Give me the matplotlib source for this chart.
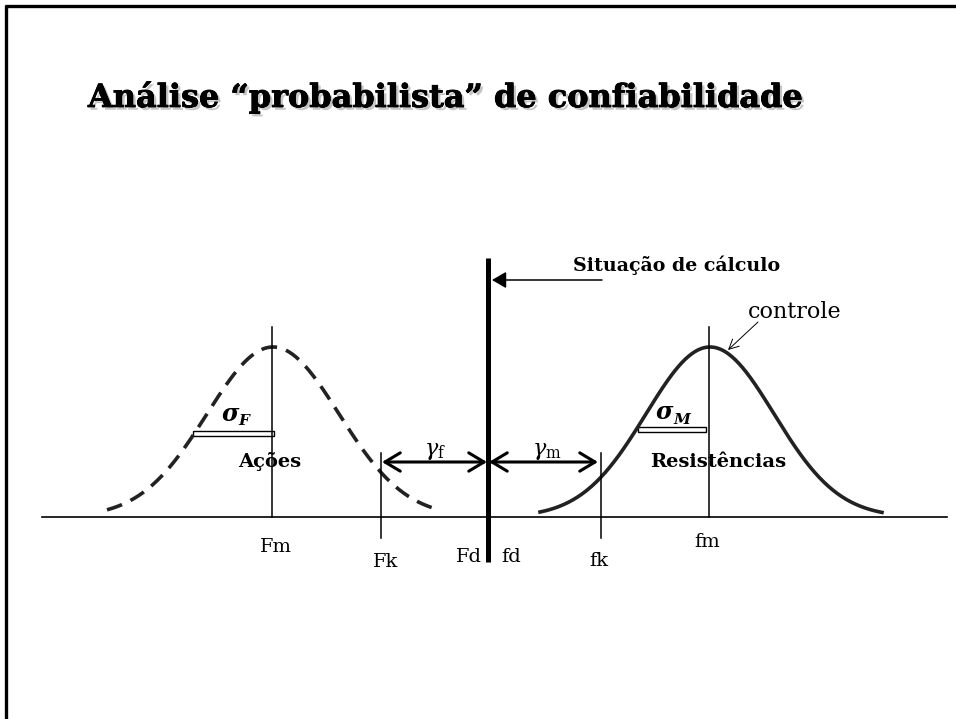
import numpy as np
import matplotlib
matplotlib.use("Agg")
import matplotlib.pyplot as plt
import matplotlib.patheffects as pe
from matplotlib.patches import Rectangle

# ---- data (diagram units ~ pixel space) ----
mean_actions = 273.0        # Fm
mean_resist = 710.0         # fm
sigma_actions = 66.0
sigma_resist = 64.0
peak_height = 170.0
tail_half_width = 166.0
baseline_y = 517.0
Fk_x = 381.0
Fd_x = 489.0
fk_x = 600.0

title_text = "Análise “probabilista” de confiabilidade"
tick_labels = ["Fm", "Fk", "Fd", "fd", "fk", "fm"]
tick_label_pos = [(276, 552), (386, 567), (469, 562), (511, 562), (599, 566), (707, 547)]

fig = plt.figure(figsize=(9.56, 7.19), dpi=100)
ax = fig.add_axes([0, 0, 1, 1])
ax.set_xlim(0, 956)
ax.set_ylim(719, 0)
ax.axis("off")

# slide border (top and left)
ax.plot([5, 956], [6, 6], color="black", lw=2.4, solid_capstyle="butt")
ax.plot([6, 6], [5, 719], color="black", lw=2.4, solid_capstyle="butt")

# title with shadow
ax.text(88, 107, title_text, family="DejaVu Serif", fontweight="heavy",
        fontsize=23, ha="left", va="baseline", color="black",
        path_effects=[pe.withSimplePatchShadow(offset=(2.0, -2.0),
                                               shadow_rgbFace="#808080", alpha=0.45),
                      pe.withStroke(linewidth=0.6, foreground="black")])

# baseline axis
ax.plot([42, 947], [baseline_y, baseline_y], color="black", lw=1.2)

# curves
xa = np.linspace(mean_actions - tail_half_width, mean_actions + tail_half_width - 2, 300)
ya = baseline_y - peak_height * np.exp(-(xa - mean_actions) ** 2 / (2 * sigma_actions ** 2))
la, = ax.plot(xa, ya, color="#222222", lw=2.6, dash_capstyle="butt")
la.set_dashes((4.4, 2.6))

xr = np.linspace(mean_resist - tail_half_width - 4, mean_resist + tail_half_width + 6, 300)
yr = baseline_y - peak_height * np.exp(-(xr - mean_resist) ** 2 / (2 * sigma_resist ** 2))
ax.plot(xr, yr, color="#222222", lw=2.6)

# vertical lines
ax.plot([mean_actions - 1, mean_actions - 1], [327, baseline_y], color="black", lw=1.1)
ax.plot([mean_resist - 1, mean_resist - 1], [327, baseline_y], color="black", lw=1.1)
ax.plot([Fk_x, Fk_x], [453, 538], color="black", lw=1.1)
ax.plot([fk_x + 1, fk_x + 1], [453, 538], color="black", lw=1.1)
ax.plot([Fd_x - 1, Fd_x - 1], [258, 562], color="black", lw=3.6, solid_capstyle="butt")

# gamma arrows
arrow_y = 462
ax.annotate("", xy=(Fk_x + 1, arrow_y), xytext=(Fd_x - 2, arrow_y),
            arrowprops=dict(arrowstyle="<->, head_length=0.55, head_width=0.33",
                            lw=2.2, color="black", shrinkA=0, shrinkB=0,
                            mutation_scale=20))
ax.annotate("", xy=(Fd_x, arrow_y), xytext=(fk_x - 2, arrow_y),
            arrowprops=dict(arrowstyle="<->, head_length=0.55, head_width=0.33",
                            lw=2.2, color="black", shrinkA=0, shrinkB=0,
                            mutation_scale=20))
ax.text(435, 455, r"$\gamma_{\mathrm{f}}$", fontsize=16, ha="center", va="baseline",
        math_fontfamily="dejavuserif")
ax.text(547, 455, r"$\gamma_{\mathrm{m}}$", fontsize=16, ha="center", va="baseline",
        math_fontfamily="dejavuserif")

# Situação de cálculo
ax.text(573, 271, "Situação de cálculo", family="DejaVu Serif", fontweight="bold",
        fontsize=13.7, ha="left", va="baseline")
ax.annotate("", xy=(Fd_x + 3, 280), xytext=(602, 280),
            arrowprops=dict(arrowstyle="-|>, head_length=0.86, head_width=0.5",
                            lw=1.1, color="black", shrinkA=0, shrinkB=0,
                            mutation_scale=10))

# controle
ax.text(748, 318, "controle", family="DejaVu Serif", fontsize=16, ha="left", va="baseline")
ax.annotate("", xy=(728, 350), xytext=(758, 322),
            arrowprops=dict(arrowstyle="->, head_length=0.7, head_width=0.35",
                            lw=0.7, color="black", shrinkA=0, shrinkB=0,
                            mutation_scale=10))

# sigma bars
ax.add_patch(Rectangle((193, 431), 81, 5, facecolor="white", edgecolor="black", lw=1.0))
ax.add_patch(Rectangle((638, 427), 68, 5, facecolor="white", edgecolor="black", lw=1.0))
ax.text(222, 421, "σ", family="DejaVu Serif", fontweight="bold", fontstyle="italic",
        fontsize=17, ha="left", va="baseline")
ax.text(238, 425, "F", family="DejaVu Serif", fontweight="bold", fontstyle="italic",
        fontsize=11, ha="left", va="baseline")
ax.text(656, 419, "σ", family="DejaVu Serif", fontweight="bold", fontstyle="italic",
        fontsize=17, ha="left", va="baseline")
ax.text(673, 424, "M", family="DejaVu Serif", fontweight="bold", fontstyle="italic",
        fontsize=11, ha="left", va="baseline")

# category labels
ax.text(270, 467, "Ações", family="DejaVu Serif", fontweight="bold", fontsize=14,
        ha="center", va="baseline")
ax.text(718, 467, "Resistências", family="DejaVu Serif", fontweight="bold", fontsize=14,
        ha="center", va="baseline")

# axis labels
for lab, (x, y) in zip(tick_labels, tick_label_pos):
    ax.text(x, y, lab, family="DejaVu Serif", fontsize=14, ha="center", va="baseline")

fig.savefig("out.png", dpi=100)
